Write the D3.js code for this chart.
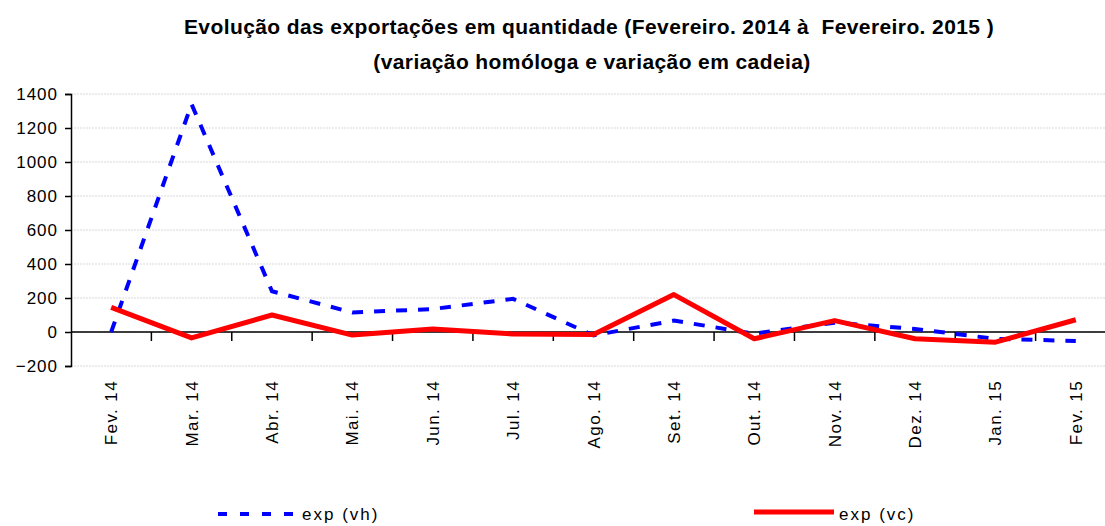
<!DOCTYPE html>
<html>
<head>
<meta charset="utf-8">
<script src="https://d3js.org/d3.v7.min.js"></script>
<style>
  body { margin: 0; background: #fff; }
  svg { display: block; font-family: "Liberation Sans", Arial, sans-serif; }
</style>
</head>
<body>
<div id="chart"></div>
<script>
// data
var months = ["Fev. 14", "Mar. 14", "Abr. 14", "Mai. 14", "Jun. 14", "Jul. 14", "Ago. 14",
              "Set. 14", "Out. 14", "Nov. 14", "Dez. 14", "Jan. 15", "Fev. 15"];
var expVh = [0, 1340, 240, 115, 135, 195, -20, 67, -10, 55, 18, -40, -53];
var expVc = [145, -35, 100, -18, 17, -12, -15, 220, -40, 67, -40, -60, 72];
var yTicks = [-200, 0, 200, 400, 600, 800, 1000, 1200, 1400];

var W = 1105, H = 526;
var margin = {top: 94, left: 71};
var plotW = 1045, plotH = 272;

var svg = d3.select("#chart").append("svg")
    .attr("width", W)
    .attr("height", H);

// title
svg.append("text")
    .attr("x", 589).attr("y", 34)
    .attr("text-anchor", "middle")
    .style("font-size", "21px").style("font-weight", "bold")
    .style("letter-spacing", "0.4px").style("white-space", "pre")
    .text("Evolução das exportações em quantidade (Fevereiro. 2014 à  Fevereiro. 2015 )");
svg.append("text")
    .attr("x", 592).attr("y", 69)
    .attr("text-anchor", "middle")
    .style("font-size", "21px").style("font-weight", "bold")
    .style("letter-spacing", "0.4px")
    .text("(variação homóloga e variação em cadeia)");

var g = svg.append("g")
    .attr("transform", "translate(" + margin.left + "," + margin.top + ")");

var x = d3.scaleBand().domain(months).range([0, plotW]);
var y = d3.scaleLinear().domain([-200, 1400]).range([plotH, 0]);

// grid
g.selectAll(".grid")
  .data(yTicks)
  .enter().append("line")
    .attr("x1", 0).attr("x2", plotW)
    .attr("y1", function(d) { return y(d); })
    .attr("y2", function(d) { return y(d); })
    .attr("stroke", "#d9d9d9")
    .attr("stroke-dasharray", "2,1");

// y axis
var yAxis = g.append("g")
    .call(d3.axisLeft(y).tickValues(yTicks).tickFormat(d3.format("d")).tickSize(6).tickPadding(7));
yAxis.select(".domain").attr("stroke-width", 1.5);
yAxis.selectAll("line").attr("stroke-width", 1.5);
yAxis.selectAll("text")
    .style("font-size", "17px").style("letter-spacing", "1px")
    .attr("fill", "#000");

// zero axis line with ticks between categories
g.append("line")
    .attr("x1", 0).attr("x2", plotW)
    .attr("y1", y(0)).attr("y2", y(0))
    .attr("stroke", "#000").attr("stroke-width", 1.5);
g.selectAll(".xtick")
  .data(months.slice(1))
  .enter().append("line")
    .attr("x1", function(d) { return x(d); })
    .attr("x2", function(d) { return x(d); })
    .attr("y1", y(0)).attr("y2", y(0) + 9)
    .attr("stroke", "#000").attr("stroke-width", 1.5);

// x labels rotated
g.selectAll(".xlab")
  .data(months)
  .enter().append("text")
    .attr("transform", function(d) {
      return "translate(" + (x(d) + x.bandwidth() / 2 + 6) + "," + (plotH + 14) + ") rotate(-90)";
    })
    .attr("text-anchor", "end")
    .style("font-size", "17px").style("letter-spacing", "1.4px")
    .text(function(d) { return d; });

var line = d3.line()
    .x(function(d, i) { return x(months[i]) + x.bandwidth() / 2; })
    .y(function(d) { return y(d); });

g.append("path")
    .datum(expVh)
    .attr("d", line)
    .attr("fill", "none")
    .attr("stroke", "#0000ff")
    .attr("stroke-width", 4)
    .attr("stroke-dasharray", "11,11");

g.append("path")
    .datum(expVc)
    .attr("d", line)
    .attr("fill", "none")
    .attr("stroke", "#ff0000")
    .attr("stroke-width", 5)
    .attr("stroke-linejoin", "round");

// legend
svg.append("line")
    .attr("x1", 218).attr("x2", 298)
    .attr("y1", 514).attr("y2", 514)
    .attr("stroke", "#0000ff").attr("stroke-width", 4)
    .attr("stroke-dasharray", "9,13");
svg.append("text")
    .attr("x", 302).attr("y", 520)
    .style("font-size", "17px").style("letter-spacing", "2px")
    .text("exp (vh)");

svg.append("line")
    .attr("x1", 754).attr("x2", 834)
    .attr("y1", 512).attr("y2", 512)
    .attr("stroke", "#ff0000").attr("stroke-width", 5);
svg.append("text")
    .attr("x", 839).attr("y", 520)
    .style("font-size", "17px").style("letter-spacing", "2px")
    .text("exp (vc)");
</script>
</body>
</html>
